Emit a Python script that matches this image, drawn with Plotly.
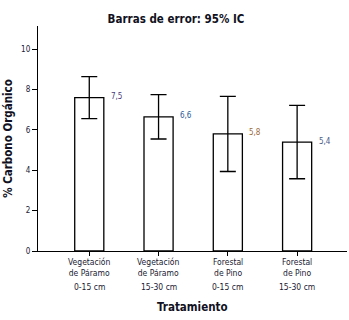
import plotly.graph_objects as go

cat_line12 = ["Vegetación<br>de Páramo", "Vegetación<br>de Páramo", "Forestal<br>de Pino", "Forestal<br>de Pino"]
cat_line3 = ["0-15 cm", "15-30 cm", "0-15 cm", "15-30 cm"]
means = [7.6, 6.65, 5.8, 5.4]
ci_half = [1.04, 1.1, 1.86, 1.82]
value_labels = ["7,5", "6,6", "5,8", "5,4"]
label_colors = ["#4a3a7a", "#2a5a9a", "#9a6a3a", "#4a5a8a"]
y_ticks = [0, 2, 4, 6, 8, 10]

FONT = "DejaVu Sans Condensed, Liberation Sans Narrow, Arial Narrow, sans-serif"
x = list(range(len(means)))

W, H = 349, 320
L, R, T, B = 38, 2, 26, 69

fig = go.Figure()
fig.add_trace(go.Bar(
    x=x, y=means, width=0.42,
    marker=dict(color="white", line=dict(color="black", width=1.3)),
    error_y=dict(type="data", array=ci_half, visible=True, color="black", thickness=1.3, width=8),
    showlegend=False, hoverinfo="skip",
))

for xi, m, t, c in zip(x, means, value_labels, label_colors):
    fig.add_annotation(x=xi + 0.21, y=m, text=t, showarrow=False, xanchor="left",
                       xshift=5, yshift=1, font=dict(family=FONT, size=8, color=c))

plot_h = H - T - B
def py(pix):
    # pixel row -> paper y
    return (H - B - pix) / plot_h

for xi, a, b in zip(x, cat_line12, cat_line3):
    fig.add_annotation(x=xi, xref="x", y=py(267.5), yref="paper", text=a, showarrow=False,
                       yanchor="middle", font=dict(family=FONT, size=8.5, color="#1a1a33"))
    fig.add_annotation(x=xi, xref="x", y=py(286.5), yref="paper", text=b, showarrow=False,
                       yanchor="middle", font=dict(family=FONT, size=8.5, color="#1a1a33"))

fig.add_annotation(x=0.5, xref="paper", y=py(307), yref="paper", text="<b>Tratamiento</b>",
                   showarrow=False, yanchor="middle",
                   font=dict(family=FONT, size=11.5, color="#111122"))

fig.update_layout(
    width=W, height=H,
    margin=dict(l=L, r=R, t=T, b=B, autoexpand=False),
    paper_bgcolor="white", plot_bgcolor="white",
    title=dict(text="<b>Barras de error: 95% IC</b>", x=176 / W, xanchor="center", y=1 - 19 / H, yanchor="middle",
               font=dict(family=FONT, size=11.5, color="#111122")),
    font=dict(family=FONT, color="#1a1a33"),
    xaxis=dict(
        range=[-0.74, 3.72], tickvals=x, ticktext=["", "", "", ""],
        showline=True, linecolor="black", linewidth=1.3, ticks="outside", ticklen=4,
        tickcolor="black", showgrid=False, zeroline=False, automargin=False,
    ),
    yaxis=dict(
        range=[0, 11.15], tickvals=y_ticks,
        showline=True, linecolor="black", linewidth=1.3, ticks="outside", ticklen=5,
        tickcolor="black", showgrid=False, zeroline=False, automargin=False,
        tickfont=dict(family=FONT, size=8, color="#1a1a33"),
        title=dict(text="<b>% Carbono Orgánico</b>", font=dict(family=FONT, size=11.5, color="#111122"), standoff=6),
    ),
)

fig.write_html("out.html", config={"displayModeBar": False},
               post_script="document.body.style.margin='0';document.body.style.padding='0';")
